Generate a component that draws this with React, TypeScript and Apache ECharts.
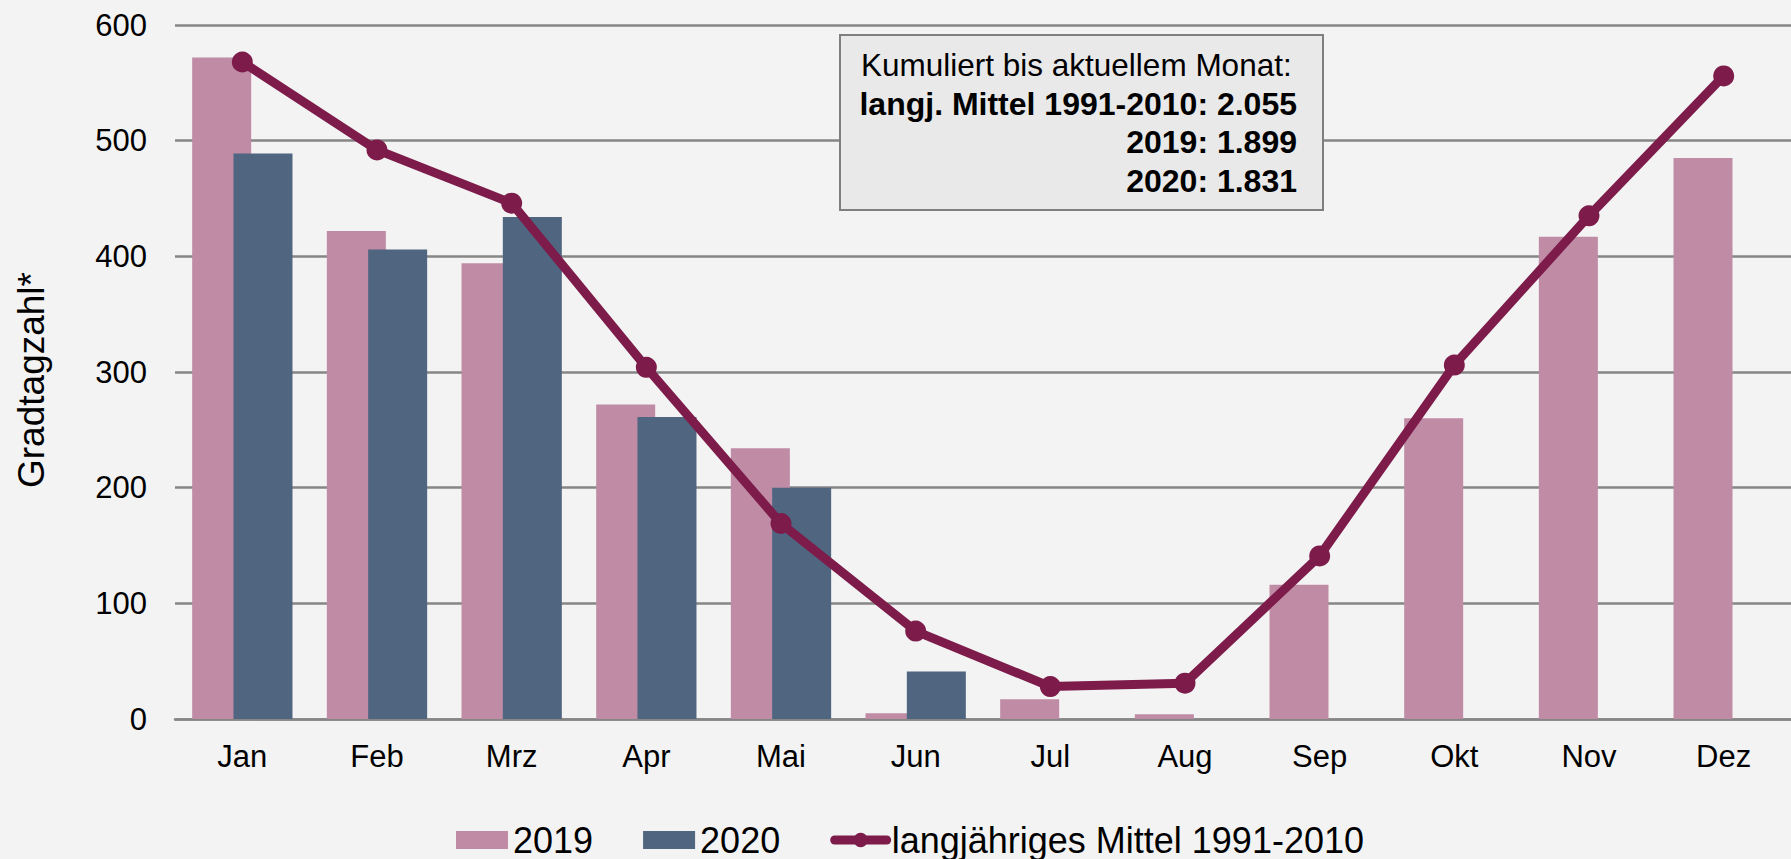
import React, { useEffect, useRef } from "react";
import * as echarts from "echarts";

const months = ["Jan", "Feb", "Mrz", "Apr", "Mai", "Jun", "Jul", "Aug", "Sep", "Okt", "Nov", "Dez"];
const values2019 = [572, 422, 394, 272, 234, 5, 17, 4, 116, 260, 417, 485];
const values2020: (number | null)[] = [489, 406, 434, 261, 200, 41, null, null, null, null, null, null];
const longTermMean = [568, 492, 446, 304, 169, 76, 28, 31, 141, 306, 435, 556];
const yTicks = { min: 0, max: 600, interval: 100 };

const seriesNames = ["2019", "2020", "langjähriges Mittel 1991-2010"];
const boxLines = [
  "Kumuliert bis aktuellem Monat:",
  "langj. Mittel 1991-2010: 2.055",
  "2019: 1.899",
  "2020: 1.831",
];
const yAxisTitle = "Gradtagzahl*";

const FONT = '"Liberation Sans", Arial, Helvetica, sans-serif';
const LINE_COLOR = "#7D1C4B";

export default function App() {
  const ref = useRef<HTMLDivElement>(null);

  useEffect(() => {
    if (!ref.current) return;
    const chart = echarts.init(ref.current, undefined, { renderer: "svg" });

    const option: any = {
      animation: false,
      backgroundColor: "#F3F3F3",
      textStyle: { fontFamily: FONT },
      grid: { left: 175, right: -11, top: 25, bottom: 140, containLabel: false },
      legend: {
        left: 456,
        top: 822,
        padding: 0,
        itemWidth: 52,
        itemHeight: 18,
        itemGap: 50,
        textStyle: { fontSize: 36, color: "#000", fontFamily: FONT },
        data: [
          { name: seriesNames[0], icon: "rect" },
          { name: seriesNames[1], icon: "rect" },
          {
            name: seriesNames[2],
            lineStyle: { width: 9, color: LINE_COLOR, cap: "round" },
            itemStyle: { color: LINE_COLOR },
          },
        ],
      },
      xAxis: {
        type: "category",
        data: months,
        axisLine: { show: true, lineStyle: { color: "#868686", width: 2.5 } },
        axisTick: { show: false },
        axisLabel: { color: "#000", fontSize: 31, fontFamily: FONT, margin: 22 },
      },
      yAxis: {
        type: "value",
        min: yTicks.min,
        max: yTicks.max,
        interval: yTicks.interval,
        axisLine: { show: false },
        axisTick: { show: false },
        axisLabel: { color: "#000", fontSize: 31, fontFamily: FONT, margin: 28 },
        splitLine: { show: true, lineStyle: { color: "#868686", width: 2.5 } },
      },
      series: [
        {
          name: seriesNames[0],
          type: "bar",
          data: values2019,
          barWidth: 59,
          barGap: "-30%",
          itemStyle: { color: "#BF8BA5" },
        },
        {
          name: seriesNames[1],
          type: "bar",
          data: values2020,
          barWidth: 59,
          barGap: "-30%",
          itemStyle: { color: "#4F6580" },
        },
        {
          name: seriesNames[2],
          type: "line",
          data: longTermMean,
          symbol: "circle",
          symbolSize: 21,
          lineStyle: { color: LINE_COLOR, width: 9 },
          itemStyle: { color: LINE_COLOR },
          z: 5,
        },
      ],
      graphic: [
        {
          type: "rect",
          shape: { x: 840, y: 35, width: 483, height: 175 },
          style: { fill: "#E9E9E9", stroke: "#7F7F7F", lineWidth: 2 },
          z: 100,
        },
        {
          type: "text",
          x: 861,
          y: 65,
          z: 101,
          style: {
            text: boxLines[0],
            font: `31.5px ${FONT}`,
            fill: "#000",
            align: "left",
            verticalAlign: "middle",
            textAlign: "left",
            textVerticalAlign: "middle",
          },
        },
        ...[1, 2, 3].map((i) => ({
          type: "text",
          x: 1297,
          y: 65 + i * 38.5,
          z: 101,
          style: {
            text: boxLines[i],
            font: `bold 32px ${FONT}`,
            fill: "#000",
            align: "right",
            verticalAlign: "middle",
            textAlign: "right",
            textVerticalAlign: "middle",
          },
        })),
        {
          type: "text",
          x: 31,
          y: 380,
          rotation: Math.PI / 2,
          style: {
            text: yAxisTitle,
            font: `37px ${FONT}`,
            fill: "#000",
            align: "center",
            verticalAlign: "middle",
            textAlign: "center",
            textVerticalAlign: "middle",
          },
        },
      ],
    };

    chart.setOption(option);
    return () => chart.dispose();
  }, []);

  return (
    <div
      ref={ref}
      style={{ position: "fixed", left: 0, top: 0, width: 1791, height: 859 }}
    />
  );
}
